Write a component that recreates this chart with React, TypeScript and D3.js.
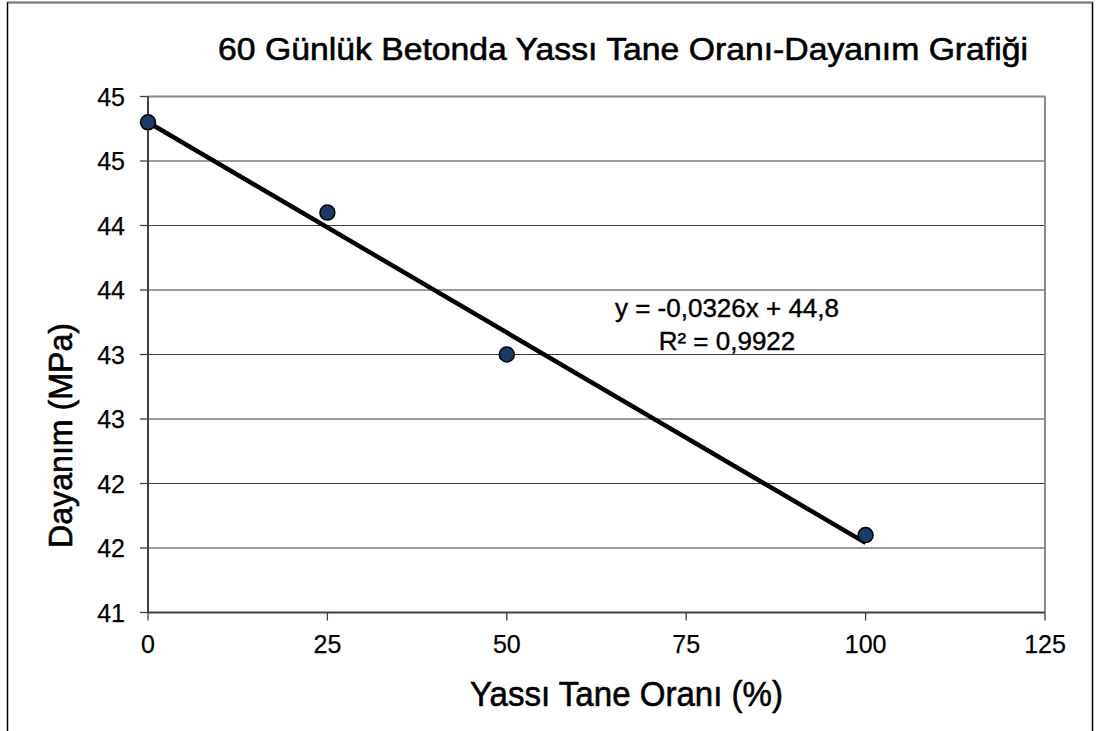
import React from "react";
import * as d3 from "d3";

const xValues = [0, 25, 50, 100];
const yValues = [44.8, 44.1, 43.0, 41.6];
const xTicks = [0, 25, 50, 75, 100, 125];
const yTicks = [41, 41.5, 42, 42.5, 43, 43.5, 44, 44.5, 45];
const slope = -0.0326;
const intercept = 44.8;
const title = "60 Günlük Betonda Yassı Tane Oranı-Dayanım Grafiği";
const xLabel = "Yassı Tane Oranı (%)";
const yLabel = "Dayanım (MPa)";
const eqLine1 = "y = -0,0326x + 44,8";
const eqLine2 = "R² = 0,9922";

const W = 1096;
const H = 731;
const left = 148, right = 1045, top = 96.5, bottom = 612.5;

function fmtY(v: number) {
  // Excel-style rounding half away from zero
  return String(Math.round(v + 1e-9));
}

export default function App() {
  const x = d3.scaleLinear().domain([0, 125]).range([left, right]);
  const y = d3.scaleLinear().domain([41, 45]).range([bottom, top]);
  const font = "Arial, 'Liberation Sans', sans-serif";
  const line = d3.line<number>().x((d) => x(d)).y((d) => y(slope * d + intercept));
  return (
    <svg width={W} height={H} style={{ position: "absolute", left: 0, top: 0, background: "#fff" }} fontFamily={font}>
      <rect x={0} y={0} width={W} height={H} fill="#fff" />
      <path d={`M7.5,${H + 5}V2.5H1092.5V${H + 5}`} fill="none" stroke="#000" strokeWidth={1.5} />
      <path d="M7.5,2.5H1092.5" stroke="#777" strokeWidth={1.5} />
      {yTicks.map((t) => (
        <line key={"g" + t} x1={left} x2={right} y1={y(t)} y2={y(t)} stroke="#3a3a3a" strokeWidth={1} />
      ))}
      <line x1={right} x2={right} y1={top} y2={bottom} stroke="#8a8a8a" strokeWidth={2} />
      <line x1={left} x2={right} y1={top} y2={top} stroke="#8a8a8a" strokeWidth={2} />
      <line x1={left} x2={left} y1={top} y2={bottom} stroke="#404040" strokeWidth={2} />
      <line x1={left} x2={right} y1={bottom} y2={bottom} stroke="#404040" strokeWidth={2} />
      {yTicks.map((t) => (
        <g key={"y" + t}>
          <line x1={left - 8} x2={left} y1={y(t)} y2={y(t)} stroke="#404040" strokeWidth={1.3} />
          <text x={125} y={y(t) + 9.3} textAnchor="end" fontSize={25} fill="#000" stroke="#000" strokeWidth={0.25}>
            {fmtY(t)}
          </text>
        </g>
      ))}
      {xTicks.map((t) => (
        <g key={"x" + t}>
          <line x1={x(t)} x2={x(t)} y1={bottom} y2={bottom + 8} stroke="#404040" strokeWidth={1.3} />
          <text x={x(t)} y={653} textAnchor="middle" fontSize={25} fill="#000" stroke="#000" strokeWidth={0.25}>
            {t}
          </text>
        </g>
      ))}
      <path d={line([0, 100]) || ""} stroke="#000" strokeWidth={4.5} fill="none" />
      {xValues.map((v, i) => (
        <circle key={"p" + i} cx={x(v)} cy={y(yValues[i])} r={7.5} fill="#1b3a66" stroke="#000" strokeWidth={1.5} />
      ))}
      <text x={727} y={317} textAnchor="middle" fontSize={26} fill="#000" stroke="#000" strokeWidth={0.4}>{eqLine1}</text>
      <text x={727} y={350} textAnchor="middle" fontSize={26} fill="#000" stroke="#000" strokeWidth={0.4}>{eqLine2}</text>
      <text x={218} y={60} fontSize={31} textLength={810} lengthAdjust="spacingAndGlyphs" fill="#000" stroke="#000" strokeWidth={0.6}>{title}</text>
      <text x={470} y={706} fontSize={35} textLength={313} lengthAdjust="spacingAndGlyphs" fill="#000" stroke="#000" strokeWidth={0.6}>{xLabel}</text>
      <text transform="translate(72,548) rotate(-90)" fontSize={34} textLength={225} lengthAdjust="spacingAndGlyphs" fill="#000" stroke="#000" strokeWidth={0.6}>{yLabel}</text>
    </svg>
  );
}
